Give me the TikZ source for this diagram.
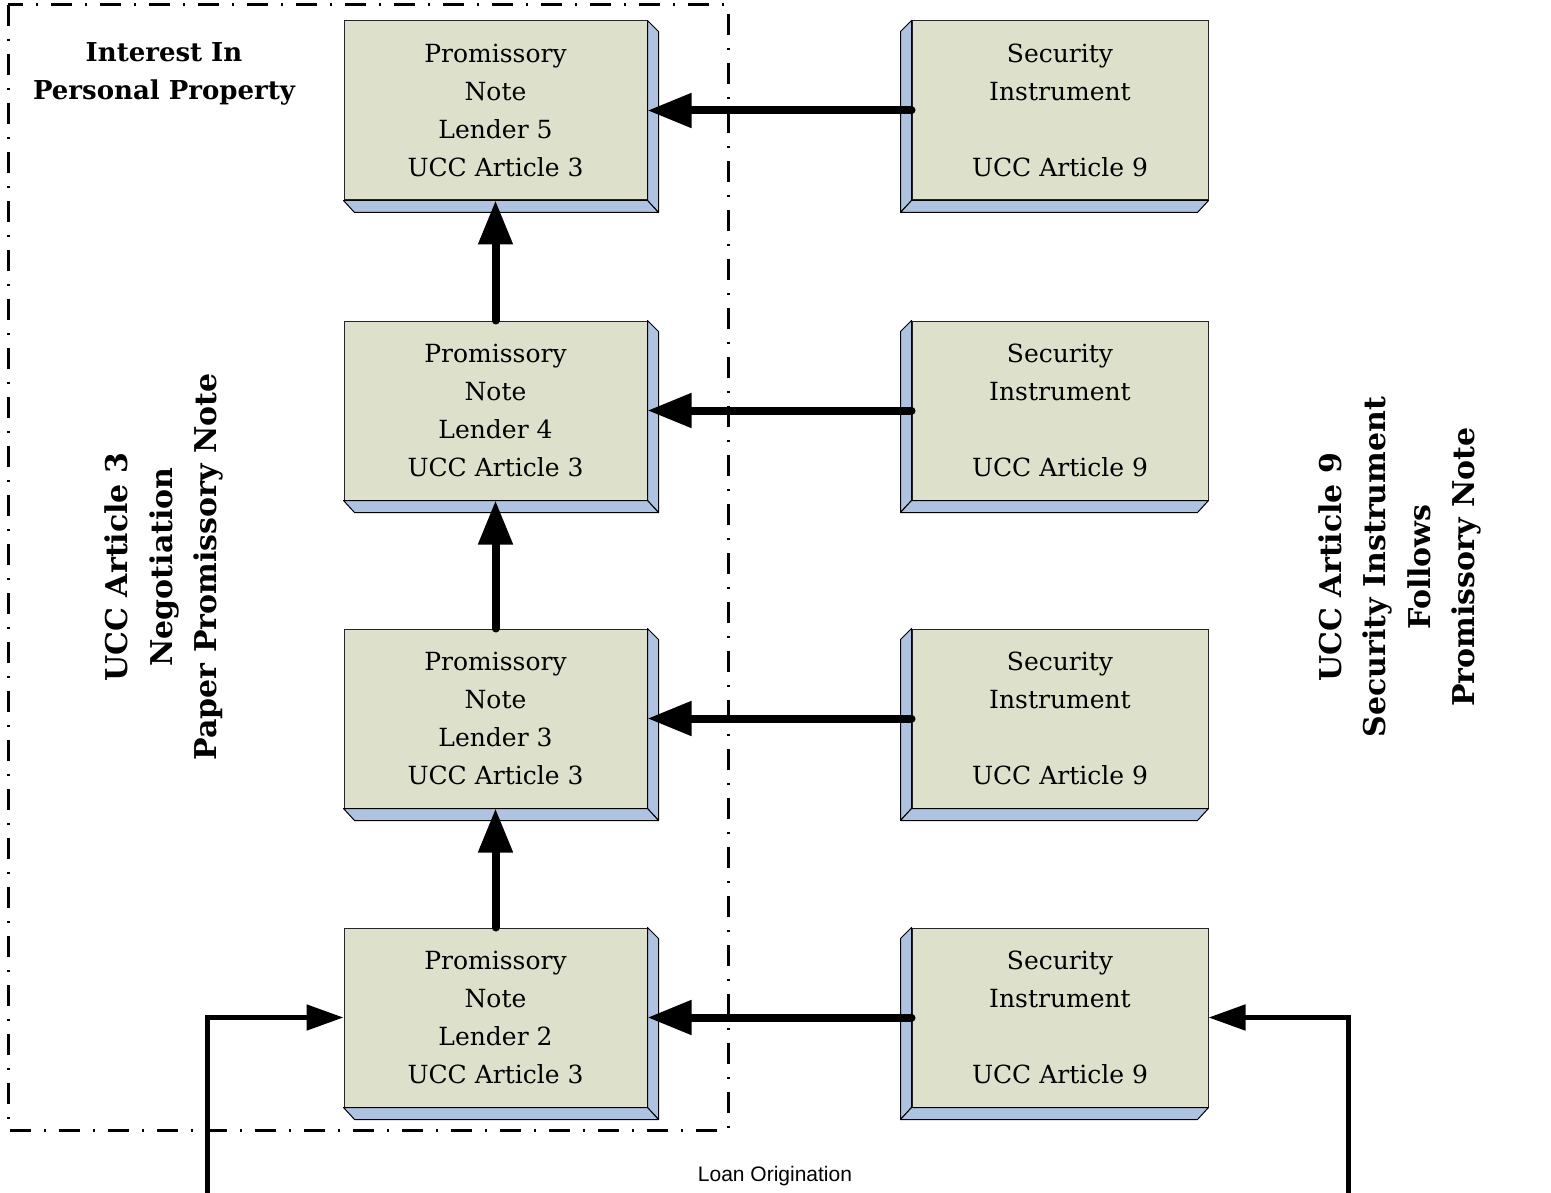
\documentclass[tikz,border=0pt]{standalone}
\usepackage{fontspec}
\setmainfont{DejaVu Serif}
\newfontfamily\labelsans{Liberation Sans}
\usetikzlibrary{arrows.meta,calc}

\definecolor{facecol}{HTML}{DDE1CB}
\definecolor{depthcol}{HTML}{AEC3E2}

\tikzset{
  card/.style={draw=black!85, line width=1pt, fill=facecol, inner sep=0pt,
    minimum height=179pt, align=center,
    font=\fontsize{25}{38}\selectfont},
  notecard/.style={card, minimum width=303pt},
  seccard/.style={card, minimum width=296pt},
  depth/.style={draw=black, line width=1pt, fill=depthcol, line join=round},
  transfer/.style={line width=8pt, line cap=round,
    -{Triangle[length=44pt, width=33pt]}},
  feed/.style={line width=5pt, -{Triangle[length=37pt, width=25pt]}},
  zone/.style={line width=3pt, dash pattern=on 21pt off 13pt on 2pt off 13pt},
  biglabel/.style={align=center, font=\bfseries\fontsize{26}{38}\selectfont},
  sidelabel/.style={align=center, rotate=90,
    font=\bfseries\fontsize{30}{44.5}\selectfont},
}

\begin{document}
\begin{tikzpicture}[x=1pt, y=-1pt]
\useasboundingbox (0,0) rectangle (1551,1193);

% outline of the negotiation zone
\draw[zone] (8,5) rectangle (728,1130);

% promissory notes (depth to the lower right) and security instruments
% (depth to the lower left), one row per lender
\foreach \n/\yc in {5/110.5, 4/410.5, 3/718.5, 2/1017.5} {
  \node[notecard] (P\n) at (495.5,\yc) {Promissory\\Note\\Lender \n\\UCC Article 3};
  \draw[depth] (P\n.north east) -- ++(11,11) -- ($(P\n.south east)+(11,12)$)
    -- (P\n.south east) -- cycle;
  \draw[depth] (P\n.south west) -- (P\n.south east) -- ++(11,12)
    -- ($(P\n.south west)+(11,12)$) -- cycle;
  \node[seccard] (S\n) at (1060,\yc) {Security\\Instrument\\\strut\\UCC Article 9};
  \draw[depth] (S\n.north west) -- ++(-11,11) -- ($(S\n.south west)+(-11,12)$)
    -- (S\n.south west) -- cycle;
  \draw[depth] (S\n.south west) -- (S\n.south east) -- ++(-11,12)
    -- ($(S\n.south west)+(-11,12)$) -- cycle;
  \draw[transfer] (S\n.west) -- (P\n.east);
}

% negotiation chain
\draw[transfer] (P2.north) -- (P3.south);
\draw[transfer] (P3.north) -- (P4.south);
\draw[transfer] (P4.north) -- (P5.south);

% loan origination feeds
\coordinate (origL) at (207,1193);
\coordinate (origR) at (1348,1193);
\draw[feed] (origL) |- (P2.west);
\draw[feed] (origR) |- (S2.east);

% labels
\node[biglabel] (title) at (164,74) {Interest In\\Personal Property};
\node[sidelabel] (leftnote) at (164,567) {UCC Article 3\\Negotiation\\Paper Promissory Note};
\node[sidelabel] (rightnote) at (1400,567) {UCC Article 9\\Security Instrument\\Follows\\Promissory Note};
\node[font=\labelsans\fontsize{21}{24}\selectfont] (orig) at (775,1176) {Loan Origination};
\end{tikzpicture}
\end{document}
